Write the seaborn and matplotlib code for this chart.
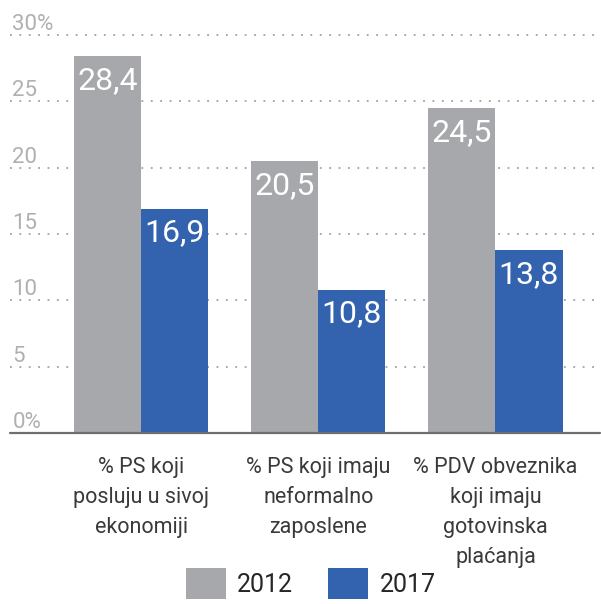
import pandas as pd
import seaborn as sns
import matplotlib.pyplot as plt
from matplotlib.patches import Patch

categories = ["% PS koji\nposluju u sivoj\nekonomiji",
              "% PS koji imaju\nneformalno\nzaposlene",
              "% PDV obveznika\nkoji imaju\ngotovinska\nplaćanja"]
years = ["2012", "2017"]
values_2012 = [28.4, 20.5, 24.5]
values_2017 = [16.9, 10.8, 13.8]
ytick_vals = [0, 5, 10, 15, 20, 25, 30]
ytick_labels = ["0%", "5", "10", "15", "20", "25", "30%"]
colors = ["#A7A8AB", "#3363AF"]

df = pd.DataFrame({
    "cat": categories * 2,
    "year": [years[0]] * 3 + [years[1]] * 3,
    "val": values_2012 + values_2017,
})

sns.set_theme(style="white")
plt.rcParams["font.family"] = ["Roboto", "DejaVu Sans"]

fig = plt.figure(figsize=(6.01, 6.04), dpi=100)
ax = fig.add_axes([10 / 601, 171 / 604, 590 / 601, 398 / 604])

sns.barplot(data=df, x="cat", y="val", hue="year", palette=colors,
            width=0.757, saturation=1, linewidth=0, ax=ax, legend=False, zorder=3)

ax.set_ylim(0, 30)
ax.set_xlim(-0.74, 2.59)
for s in ax.spines.values():
    s.set_visible(False)
ax.set_xticks([])
ax.set_yticks([])
ax.set_xlabel("")
ax.set_ylabel("")

# dotted grid + labels
for v, lab in zip(ytick_vals, ytick_labels):
    if v > 0:
        ax.axhline(v, color="#A0A0A0", lw=1.3, ls=(0, (1, 4.2)), zorder=1, clip_on=False)
    ax.annotate(lab, xy=(0.004, v), xycoords=("axes fraction", "data"),
                xytext=(0, 3.5), textcoords="offset points", ha="left", va="baseline",
                fontsize=16, color="#B0B0B0")
ax.axhline(0, color="#6E6E6E", lw=1.6, zorder=4, clip_on=False)

# value labels in bars
for cont in ax.containers:
    for bar in cont:
        h = bar.get_height()
        ax.annotate(f"{h:.1f}".replace(".", ","),
                    xy=(bar.get_x() + bar.get_width() / 2, h),
                    xytext=(0, -7), textcoords="offset points",
                    ha="center", va="top", fontsize=23, color="white", zorder=5)

# category labels
for i, c in enumerate(categories):
    ax.annotate(c, xy=(i, 0), xytext=(0, -17), textcoords="offset points",
                ha="center", va="top", fontsize=15.5, color="#3A3A3A",
                linespacing=1.58, annotation_clip=False)

handles = [Patch(facecolor=c, edgecolor="none") for c in colors]
fig.legend(handles, years, loc="upper left", bbox_to_anchor=(186 / 601, 1 - 568 / 604),
           frameon=False, ncol=2, handlelength=1.6, handleheight=1.5,
           handletextpad=0.45, columnspacing=1.4, borderpad=0, borderaxespad=0,
           prop={"size": 18})

fig.savefig("out.png", dpi=100)
